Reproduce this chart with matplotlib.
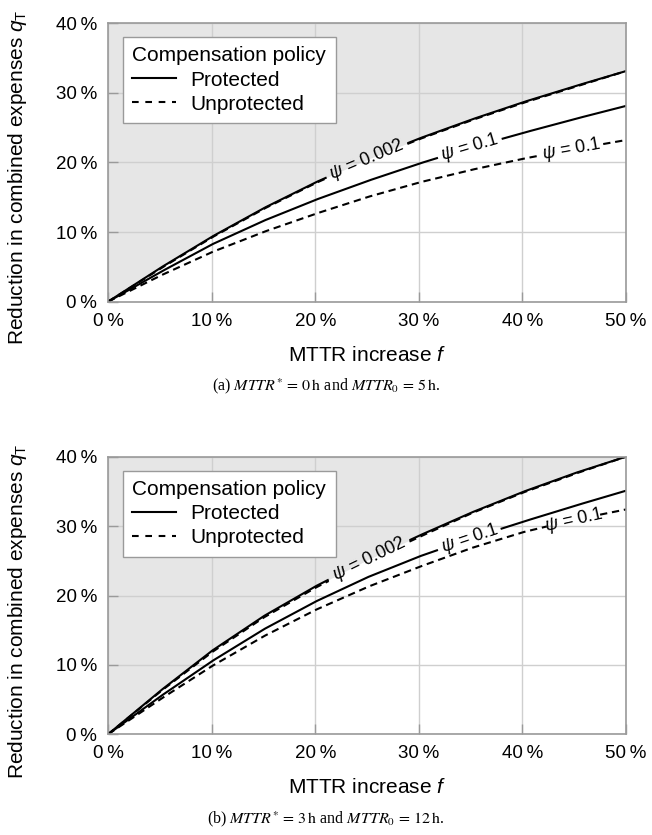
import matplotlib
matplotlib.use('Agg')

import matplotlib.pyplot as plt
from matplotlib.lines import Line2D
import numpy as np

plt.rcParams['font.family'] = ['Liberation Sans', 'DejaVu Sans']
plt.rcParams['mathtext.fontset'] = 'custom'
plt.rcParams['mathtext.rm'] = 'Liberation Sans'
plt.rcParams['mathtext.it'] = 'Liberation Sans:italic'
plt.rcParams['mathtext.bf'] = 'Liberation Sans:bold'

# MTTR increase f (%)
f_pct = [0, 5, 10, 15, 20, 25, 30, 35, 40, 45, 50]

# (a) MTTR* = 0 h, MTTR0 = 5 h  -- reduction in combined expenses q_T (%)
a_prot_002 = [0, 4.8, 9.3, 13.4, 17.1, 20.4, 23.4, 26.1, 28.6, 30.9, 33.1]
a_unprot_002 = [0, 4.7, 9.2, 13.3, 17.0, 20.3, 23.3, 26.0, 28.5, 30.8, 33.1]
a_prot_01 = [0, 4.2, 8.2, 11.6, 14.6, 17.3, 19.8, 22.1, 24.2, 26.2, 28.1]
a_unprot_01 = [0, 3.7, 7.1, 10.0, 12.6, 15.0, 17.1, 18.9, 20.5, 21.9, 23.2]

# (b) MTTR* = 3 h, MTTR0 = 12 h
b_prot_002 = [0, 6.2, 12.0, 17.0, 21.3, 25.1, 28.6, 31.9, 34.9, 37.6, 40.0]
b_unprot_002 = [0, 6.1, 11.8, 16.8, 21.1, 24.9, 28.4, 31.8, 34.8, 37.5, 40.0]
b_prot_01 = [0, 5.4, 10.5, 15.1, 19.1, 22.6, 25.6, 28.2, 30.6, 32.9, 35.1]
b_unprot_01 = [0, 5.0, 9.8, 14.1, 17.9, 21.2, 24.1, 26.8, 29.1, 30.9, 32.4]

ticks = [0, 10, 20, 30, 40, 50]
yticks = [0, 10, 20, 30, 40]
tick_labels = ['%d\u2009%%' % t for t in ticks]
ytick_labels = ['%d\u2009%%' % t for t in yticks]

LW = 1.5
DASH = (0, (3.5, 2.3))
GRID = '#cfcfcf'
EDGE = '#9a9a9a'


def curve(ax, y, ls, gap=None, lw=LW):
    ff = np.linspace(0, 50, 1001)
    yy = np.interp(ff, f_pct, y)
    if gap is not None:
        yy = np.where((ff > gap[0]) & (ff < gap[1]), np.nan, yy)
    ax.plot(ff, yy, color='black', ls=ls, lw=lw, solid_capstyle='butt')


def label(ax, y, fc, text):
    yc = np.interp(fc, f_pct, y)
    y0 = np.interp(fc - 2, f_pct, y)
    y1 = np.interp(fc + 2, f_pct, y)
    ang = np.degrees(np.arctan2(y1 - y0, 4))
    ax.text(fc, yc, text, rotation=ang, transform_rotates_text=True,
            rotation_mode='anchor', ha='center', va='center', fontsize=13)


def panel(ax, p002, u002, p01, u01, gaps):
    ax.fill_between(f_pct, p002, 40, color='#e6e6e6', lw=0, zorder=0.5)
    curve(ax, p002, '-', gaps[0])
    curve(ax, u002, DASH, gaps[0])
    curve(ax, p01, '-', gaps[1])
    curve(ax, u01, DASH, gaps[2])
    label(ax, p002, (gaps[0][0] + gaps[0][1]) / 2, r'$\psi$ = 0.002')
    label(ax, p01, (gaps[1][0] + gaps[1][1]) / 2, r'$\psi$ = 0.1')
    label(ax, u01, (gaps[2][0] + gaps[2][1]) / 2, r'$\psi$ = 0.1')

    ax.set_xlim(0, 50)
    ax.set_ylim(0, 40)
    ax.set_xticks(ticks)
    ax.set_xticklabels(tick_labels)
    ax.set_yticks(yticks)
    ax.set_yticklabels(ytick_labels)
    ax.grid(True, color=GRID, lw=1)
    ax.tick_params(direction='in', length=7, width=1, color=EDGE,
                   labelsize=13.5, pad=8)
    for s in ax.spines.values():
        s.set_color(EDGE)
        s.set_linewidth(1.2)
    ax.set_xlabel(r'MTTR increase $f$', fontsize=15)
    ax.set_ylabel(r'Reduction in combined expenses $q_\mathrm{T}$', fontsize=15)
    ax.xaxis.set_label_coords(0.5, -0.158)
    ax.yaxis.set_label_coords(-0.152, 0.445)

    handles = [Line2D([], [], color='black', lw=LW, ls='-'),
               Line2D([], [], color='black', lw=LW, ls=(0, (3.2, 3.2)))]
    leg = ax.legend(handles, ['Protected', 'Unprotected'],
                    title='Compensation policy', loc='upper left',
                    bbox_to_anchor=(0.029, 0.95), borderaxespad=0,
                    fontsize=15, title_fontsize=15, alignment='left',
                    fancybox=False, framealpha=1, edgecolor=EDGE,
                    handlelength=2.1, handletextpad=0.7, labelspacing=0.25,
                    borderpad=0.45)
    leg.get_frame().set_linewidth(1)


fig = plt.figure(figsize=(6.52, 8.35), dpi=100)
ax_a = fig.add_axes([108 / 652, 1 - 301.7 / 835, 518 / 652, 278.7 / 835])
ax_b = fig.add_axes([108 / 652, 1 - 734.3 / 835, 518 / 652, 277.6 / 835])

panel(ax_a, a_prot_002, a_unprot_002, a_prot_01, a_unprot_01,
      [(21.1, 28.9), (31.9, 38.0), (41.7, 47.8)])
panel(ax_b, b_prot_002, b_unprot_002, b_prot_01, b_unprot_01,
      [(21.3, 29.1), (31.9, 37.9), (42.4, 47.5)])

fig.text(0.5, 1 - 386 / 835,
         r'(a) $\mathit{MTTR}^{*}\,=\,0\,\mathrm{h}$ and $\mathit{MTTR}_{0}\,=\,5\,\mathrm{h}$.',
         family='Liberation Serif', math_fontfamily='stix', fontsize=11.5,
         ha='center', va='center')
fig.text(0.5, 1 - 819 / 835,
         r'(b) $\mathit{MTTR}^{*}\,=\,3\,\mathrm{h}$ and $\mathit{MTTR}_{0}\,=\,12\,\mathrm{h}$.',
         family='Liberation Serif', math_fontfamily='stix', fontsize=11.5,
         ha='center', va='center')

fig.savefig('out.png', dpi=100)
